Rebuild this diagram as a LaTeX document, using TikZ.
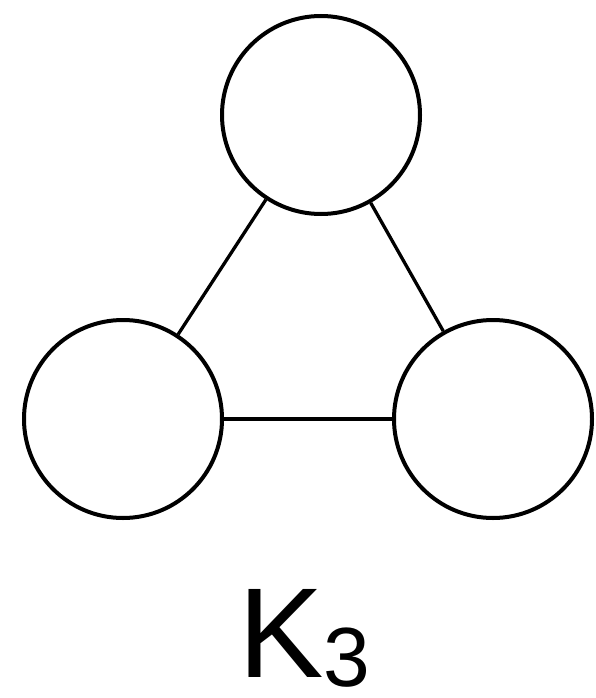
\documentclass[tikz,border=0pt]{standalone}
\usepackage{fontspec}
\setmainfont{Liberation Sans}
\usepackage{tikz}

\tikzset{
    vertex/.style={draw, circle, line width=4pt, inner sep=0pt, minimum size=198pt},
    edge/.style={line width=3.3pt}
}

\begin{document}
\begin{tikzpicture}[x=1pt,y=-1pt]
    \useasboundingbox (0,0) rectangle (595,698);

    % the three vertices
    \node[vertex] (top) at (321,115) {};
    \node[vertex] (left) at (123,419) {};
    \node[vertex] (right) at (493,419) {};

    % edges
    \draw[edge] (top) -- (left);
    \draw[edge] (top) -- (right);
    \draw[edge] (left) -- (right);

    % name of the graph
    \node[anchor=base west, inner sep=0pt] (name) at (238,677)
        {\fontsize{128}{128}\selectfont K\raisebox{-9pt}{\fontsize{84}{84}\selectfont 3}};
\end{tikzpicture}
\end{document}
